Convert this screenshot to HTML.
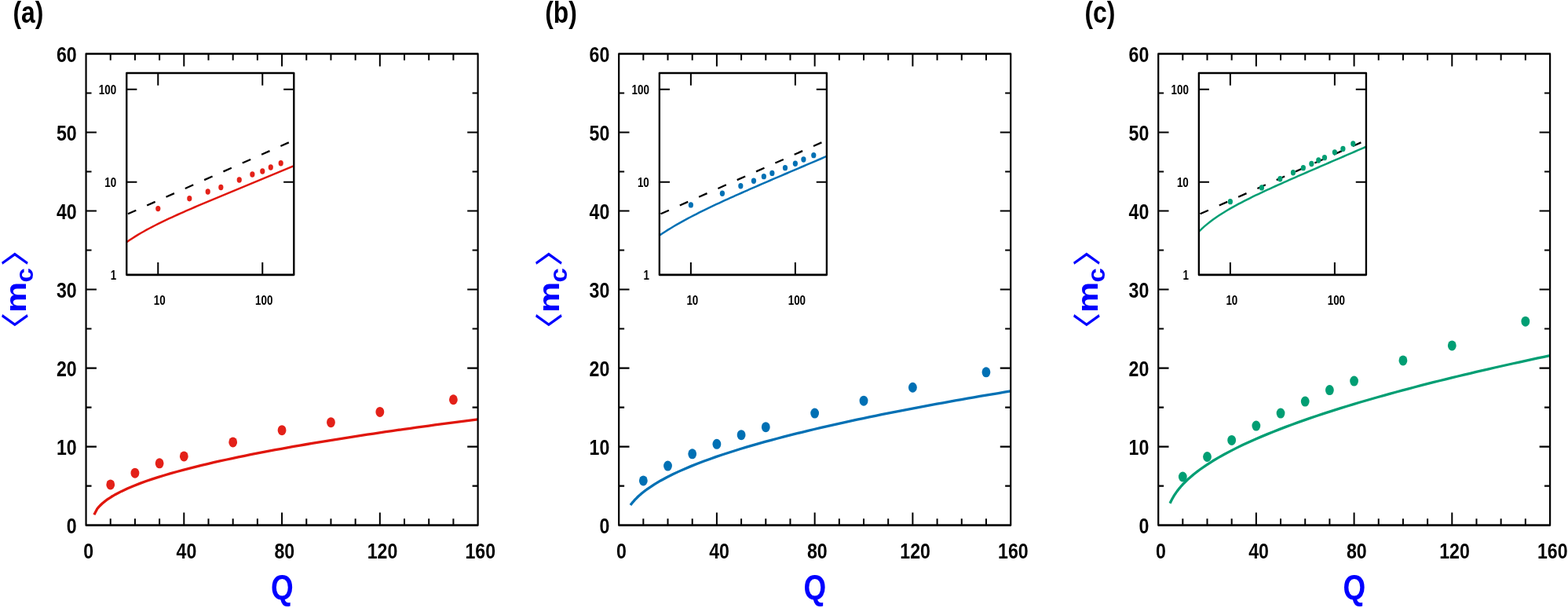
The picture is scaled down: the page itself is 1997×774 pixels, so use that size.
<!DOCTYPE html>
<html lang="en"><head><meta charset="utf-8"><title>Figure: mean m_c versus Q</title>
<style>html,body{margin:0;padding:0;background:#fff}body{width:1997px;height:774px;overflow:hidden}svg{display:block}text{font-family:"Liberation Sans",Arial,Helvetica,sans-serif;font-weight:bold}.tk{font-size:27.6px;fill:#000}.it{font-size:16px;fill:#000}.pl{font-size:38px;fill:#000}.ax{font-size:44px;fill:#0000ff}.br{font-family:"Noto Sans CJK JP","Noto Sans CJK SC","DejaVu Sans",sans-serif;font-weight:500;font-size:43.3px}</style></head><body>
<svg width="1997" height="774" viewBox="0 0 1997 774" role="img" aria-label="Mean m_c versus Q for three panels (a), (b), (c) with log-log insets">
<rect width="1997" height="774" fill="#fff"/>
<g>
<g>
<text class="pl" text-anchor="start" transform="translate(16.5 28.7) scale(0.8396 1)">(a)</text>
<path d="M140.74 668.6 v-8.4 M140.74 68.45 v8.4 M171.93 668.6 v-8.4 M171.93 68.45 v8.4 M203.12 668.6 v-8.4 M203.12 68.45 v8.4 M234.31 668.6 v-16.1 M234.31 68.45 v16.1 M265.5 668.6 v-8.4 M265.5 68.45 v8.4 M296.69 668.6 v-8.4 M296.69 68.45 v8.4 M327.88 668.6 v-8.4 M327.88 68.45 v8.4 M359.07 668.6 v-16.1 M359.07 68.45 v16.1 M390.27 668.6 v-8.4 M390.27 68.45 v8.4 M421.46 668.6 v-8.4 M421.46 68.45 v8.4 M452.65 668.6 v-8.4 M452.65 68.45 v8.4 M483.84 668.6 v-16.1 M483.84 68.45 v16.1 M515.03 668.6 v-8.4 M515.03 68.45 v8.4 M546.22 668.6 v-8.4 M546.22 68.45 v8.4 M577.41 668.6 v-8.4 M577.41 68.45 v8.4" fill="none" stroke="#000" stroke-width="2.0"/>
<path d="M109.55 618.59 h6.98 M608.6 618.59 h-6.98 M109.55 568.58 h13.38 M608.6 568.58 h-13.38 M109.55 518.56 h6.98 M608.6 518.56 h-6.98 M109.55 468.55 h13.38 M608.6 468.55 h-13.38 M109.55 418.54 h6.98 M608.6 418.54 h-6.98 M109.55 368.53 h13.38 M608.6 368.53 h-13.38 M109.55 318.51 h6.98 M608.6 318.51 h-6.98 M109.55 268.5 h13.38 M608.6 268.5 h-13.38 M109.55 218.49 h6.98 M608.6 218.49 h-6.98 M109.55 168.48 h13.38 M608.6 168.48 h-13.38 M109.55 118.46 h6.98 M608.6 118.46 h-6.98" fill="none" stroke="#000" stroke-width="2.15"/>
<polyline points="119.87,655.2 123.8,647.72 124.6,646.74 125.4,645.82 126.2,644.93 127,644.09 127.8,643.28 128.6,642.5 129.4,641.75 130.2,641.03 131,640.33 131.8,639.65 132.59,638.99 133.39,638.36 134.19,637.73 134.99,637.13 135.79,636.54 136.59,635.96 137.39,635.4 138.19,634.85 138.99,634.31 139.79,633.79 140.59,633.27 141.38,632.77 142.18,632.27 142.98,631.78 143.78,631.3 144.58,630.83 145.38,630.36 146.18,629.91 146.98,629.46 154.8,625.38 162.63,621.75 170.45,618.45 178.28,615.41 186.1,612.57 193.92,609.91 201.75,607.38 209.57,604.98 217.4,602.68 225.22,600.48 233.04,598.36 240.87,596.31 248.69,594.33 256.52,592.41 264.34,590.55 272.16,588.73 279.99,586.97 287.81,585.24 295.64,583.56 303.46,581.92 311.28,580.31 319.11,578.73 326.93,577.18 334.76,575.67 342.58,574.18 350.41,572.71 358.23,571.28 366.05,569.86 373.88,568.47 381.7,567.1 389.53,565.75 397.35,564.42 405.17,563.11 413,561.82 420.82,560.54 428.65,559.28 436.47,558.04 444.29,556.81 452.12,555.6 459.94,554.4 467.77,553.22 475.59,552.04 483.41,550.89 491.24,549.74 499.06,548.61 506.89,547.48 514.71,546.37 522.54,545.27 530.36,544.18 538.18,543.11 546.01,542.04 553.83,540.98 561.66,539.93 569.48,538.89 577.3,537.86 585.13,536.84 592.95,535.82 600.78,534.82 608.6,533.82" fill="none" stroke="#e0160c" stroke-width="3.3" stroke-linejoin="round"/>
<ellipse cx="140.74" cy="616.89" rx="5.4" ry="6.5" fill="#e32119"/>
<ellipse cx="171.93" cy="602.18" rx="5.4" ry="6.5" fill="#e32119"/>
<ellipse cx="203.12" cy="589.78" rx="5.4" ry="6.5" fill="#e32119"/>
<ellipse cx="234.31" cy="580.88" rx="5.4" ry="6.5" fill="#e32119"/>
<ellipse cx="296.69" cy="562.97" rx="5.4" ry="6.5" fill="#e32119"/>
<ellipse cx="359.07" cy="547.67" rx="5.4" ry="6.5" fill="#e32119"/>
<ellipse cx="421.46" cy="537.67" rx="5.4" ry="6.5" fill="#e32119"/>
<ellipse cx="483.84" cy="524.46" rx="5.4" ry="6.5" fill="#e32119"/>
<ellipse cx="577.41" cy="508.76" rx="5.4" ry="6.5" fill="#e32119"/>
<rect transform="scale(0.8462 1)" x="129.47" y="68.45" width="589.79" height="600.15" fill="none" stroke="#000" stroke-width="2.6" stroke-linejoin="round"/>
<text class="tk" text-anchor="end" transform="translate(97.75 679.1) scale(0.8396 1)">0</text>
<text class="tk" text-anchor="end" transform="translate(97.75 579.08) scale(0.8396 1)">10</text>
<text class="tk" text-anchor="end" transform="translate(97.75 479.05) scale(0.8396 1)">20</text>
<text class="tk" text-anchor="end" transform="translate(97.75 379.03) scale(0.8396 1)">30</text>
<text class="tk" text-anchor="end" transform="translate(97.75 279) scale(0.8396 1)">40</text>
<text class="tk" text-anchor="end" transform="translate(97.75 178.98) scale(0.8396 1)">50</text>
<text class="tk" text-anchor="end" transform="translate(97.75 78.95) scale(0.8396 1)">60</text>
<text class="tk" text-anchor="middle" transform="translate(112.75 710.5) scale(0.8396 1)">0</text>
<text class="tk" text-anchor="middle" transform="translate(237.51 710.5) scale(0.8396 1)">40</text>
<text class="tk" text-anchor="middle" transform="translate(362.27 710.5) scale(0.8396 1)">80</text>
<text class="tk" text-anchor="middle" transform="translate(487.04 710.5) scale(0.8396 1)">120</text>
<text class="tk" text-anchor="middle" transform="translate(611.8 710.5) scale(0.8396 1)">160</text>
<text class="ax" text-anchor="middle" transform="translate(359.25 762.8) scale(0.8396 1)">Q</text>
<g transform="translate(33 397.9) scale(0.8313 1) rotate(-90)"><text class="ax br" transform="translate(-41.1 0.1) scale(0.95 1)">〈</text><text class="ax" x="0" y="0">m</text><text class="ax" transform="translate(38.46 11.1) scale(0.88 1)" style="font-size:37.5px">c</text><text class="ax br" transform="translate(58.8 0.1) scale(0.95 1)">〉</text></g>
<rect x="161.25" y="92.95" width="213.05" height="256.9" fill="#fff" stroke="none"/>
<path d="M201.28 349.85 v-15.8 M201.28 92.95 v15.8 M334.27 349.85 v-15.8 M334.27 92.95 v15.8" fill="none" stroke="#000" stroke-width="2.0"/>
<path d="M161.25 231.79 h13.14 M374.3 231.79 h-13.14 M161.25 113.74 h13.14 M374.3 113.74 h-13.14" fill="none" stroke="#000" stroke-width="2.15"/>
<line x1="161.25" y1="273.05" x2="374.3" y2="178.49" stroke="#000" stroke-width="2.3" stroke-dasharray="11.4 15.2" stroke-dashoffset="-1.8"/>
<polyline points="161.25,308.31 164.86,305.81 168.47,303.42 172.08,301.12 175.69,298.91 179.31,296.78 182.92,294.71 186.53,292.7 190.14,290.75 193.75,288.85 197.36,286.99 200.97,285.17 204.58,283.38 208.19,281.63 211.8,279.9 215.42,278.2 219.03,276.53 222.64,274.88 226.25,273.24 229.86,271.62 233.47,270.02 237.08,268.43 240.69,266.86 244.3,265.3 247.91,263.74 251.53,262.2 255.14,260.66 258.75,259.13 262.36,257.61 265.97,256.09 269.58,254.58 273.19,253.07 276.8,251.56 280.41,250.06 284.02,248.56 287.64,247.06 291.25,245.57 294.86,244.08 298.47,242.58 302.08,241.09 305.69,239.6 309.3,238.11 312.91,236.62 316.52,235.12 320.13,233.63 323.75,232.14 327.36,230.65 330.97,229.15 334.58,227.66 338.19,226.16 341.8,224.66 345.41,223.16 349.02,221.66 352.63,220.16 356.24,218.66 359.86,217.15 363.47,215.65 367.08,214.14 370.69,212.63 374.3,211.12" fill="none" stroke="#e0160c" stroke-width="2.5" stroke-linejoin="round"/>
<ellipse cx="201.28" cy="265.62" rx="3.1" ry="3.7" fill="#e32119"/>
<ellipse cx="241.31" cy="252.79" rx="3.1" ry="3.7" fill="#e32119"/>
<ellipse cx="264.73" cy="244.01" rx="3.1" ry="3.7" fill="#e32119"/>
<ellipse cx="281.35" cy="238.52" rx="3.1" ry="3.7" fill="#e32119"/>
<ellipse cx="304.76" cy="229" rx="3.1" ry="3.7" fill="#e32119"/>
<ellipse cx="321.38" cy="222.06" rx="3.1" ry="3.7" fill="#e32119"/>
<ellipse cx="334.27" cy="217.99" rx="3.1" ry="3.7" fill="#e32119"/>
<ellipse cx="344.8" cy="213.06" rx="3.1" ry="3.7" fill="#e32119"/>
<ellipse cx="357.69" cy="207.76" rx="3.1" ry="3.7" fill="#e32119"/>
<rect transform="scale(0.8868 1)" x="181.84" y="92.95" width="240.25" height="256.9" fill="none" stroke="#000" stroke-width="2.65" stroke-linejoin="round"/>
<text class="it" text-anchor="end" transform="translate(148.25 356.05) scale(0.8396 1)">1</text>
<text class="it" text-anchor="end" transform="translate(148.25 237.99) scale(0.8396 1)">10</text>
<text class="it" text-anchor="end" transform="translate(148.25 119.94) scale(0.8396 1)">100</text>
<text class="it" text-anchor="middle" transform="translate(203.28 388) scale(0.8396 1)">10</text>
<text class="it" text-anchor="middle" transform="translate(336.27 388) scale(0.8396 1)">100</text>
</g>
<g>
<text class="pl" text-anchor="start" transform="translate(694.2 28.7) scale(0.8396 1)">(b)</text>
<path d="M819.34 668.6 v-8.4 M819.34 68.45 v8.4 M850.52 668.6 v-8.4 M850.52 68.45 v8.4 M881.71 668.6 v-8.4 M881.71 68.45 v8.4 M912.9 668.6 v-16.1 M912.9 68.45 v16.1 M944.09 668.6 v-8.4 M944.09 68.45 v8.4 M975.28 668.6 v-8.4 M975.28 68.45 v8.4 M1006.46 668.6 v-8.4 M1006.46 68.45 v8.4 M1037.65 668.6 v-16.1 M1037.65 68.45 v16.1 M1068.84 668.6 v-8.4 M1068.84 68.45 v8.4 M1100.03 668.6 v-8.4 M1100.03 68.45 v8.4 M1131.21 668.6 v-8.4 M1131.21 68.45 v8.4 M1162.4 668.6 v-16.1 M1162.4 68.45 v16.1 M1193.59 668.6 v-8.4 M1193.59 68.45 v8.4 M1224.78 668.6 v-8.4 M1224.78 68.45 v8.4 M1255.96 668.6 v-8.4 M1255.96 68.45 v8.4" fill="none" stroke="#000" stroke-width="2.0"/>
<path d="M788.15 618.59 h6.98 M1287.15 618.59 h-6.98 M788.15 568.58 h13.38 M1287.15 568.58 h-13.38 M788.15 518.56 h6.98 M1287.15 518.56 h-6.98 M788.15 468.55 h13.38 M1287.15 468.55 h-13.38 M788.15 418.54 h6.98 M1287.15 418.54 h-6.98 M788.15 368.53 h13.38 M1287.15 368.53 h-13.38 M788.15 318.51 h6.98 M1287.15 318.51 h-6.98 M788.15 268.5 h13.38 M1287.15 268.5 h-13.38 M788.15 218.49 h6.98 M1287.15 218.49 h-6.98 M788.15 168.48 h13.38 M1287.15 168.48 h-13.38 M788.15 118.46 h6.98 M1287.15 118.46 h-6.98" fill="none" stroke="#000" stroke-width="2.15"/>
<polyline points="802.96,643.07 803.74,642.03 804.52,641.02 805.3,640.05 806.08,639.11 806.86,638.21 807.64,637.33 808.42,636.47 809.2,635.65 809.98,634.84 810.76,634.05 811.54,633.28 812.32,632.53 813.1,631.8 813.88,631.09 814.66,630.38 815.44,629.7 816.22,629.02 817,628.36 817.78,627.71 818.56,627.07 819.34,626.45 820.12,625.83 820.9,625.23 821.68,624.63 822.46,624.04 823.24,623.46 824.02,622.89 824.8,622.33 825.58,621.78 833.4,616.59 841.22,611.94 849.04,607.7 856.87,603.78 864.69,600.12 872.51,596.66 880.34,593.39 888.16,590.28 895.98,587.3 903.81,584.44 911.63,581.68 919.45,579.03 927.28,576.45 935.1,573.96 942.92,571.54 950.75,569.18 958.57,566.89 966.39,564.65 974.22,562.46 982.04,560.33 989.86,558.23 997.69,556.19 1005.51,554.18 1013.33,552.21 1021.16,550.28 1028.98,548.38 1036.8,546.51 1044.63,544.67 1052.45,542.87 1060.27,541.09 1068.1,539.34 1075.92,537.61 1083.74,535.91 1091.57,534.23 1099.39,532.58 1107.21,530.94 1115.04,529.33 1122.86,527.74 1130.68,526.16 1138.51,524.61 1146.33,523.07 1154.15,521.55 1161.98,520.05 1169.8,518.56 1177.62,517.09 1185.45,515.63 1193.27,514.19 1201.09,512.77 1208.92,511.35 1216.74,509.96 1224.56,508.57 1232.39,507.2 1240.21,505.84 1248.03,504.49 1255.86,503.15 1263.68,501.83 1271.5,500.51 1279.33,499.21 1287.15,497.92" fill="none" stroke="#0070b4" stroke-width="3.3" stroke-linejoin="round"/>
<ellipse cx="819.34" cy="611.89" rx="5.4" ry="6.5" fill="#0070b4"/>
<ellipse cx="850.52" cy="593.08" rx="5.4" ry="6.5" fill="#0070b4"/>
<ellipse cx="881.71" cy="577.78" rx="5.4" ry="6.5" fill="#0070b4"/>
<ellipse cx="912.9" cy="565.37" rx="5.4" ry="6.5" fill="#0070b4"/>
<ellipse cx="944.09" cy="553.67" rx="5.4" ry="6.5" fill="#0070b4"/>
<ellipse cx="975.28" cy="543.67" rx="5.4" ry="6.5" fill="#0070b4"/>
<ellipse cx="1037.65" cy="526.06" rx="5.4" ry="6.5" fill="#0070b4"/>
<ellipse cx="1100.03" cy="510.16" rx="5.4" ry="6.5" fill="#0070b4"/>
<ellipse cx="1162.4" cy="493.26" rx="5.4" ry="6.5" fill="#0070b4"/>
<ellipse cx="1255.96" cy="473.85" rx="5.4" ry="6.5" fill="#0070b4"/>
<rect transform="scale(0.8462 1)" x="931.45" y="68.45" width="589.73" height="600.15" fill="none" stroke="#000" stroke-width="2.6" stroke-linejoin="round"/>
<text class="tk" text-anchor="end" transform="translate(776.35 679.1) scale(0.8396 1)">0</text>
<text class="tk" text-anchor="end" transform="translate(776.35 579.08) scale(0.8396 1)">10</text>
<text class="tk" text-anchor="end" transform="translate(776.35 479.05) scale(0.8396 1)">20</text>
<text class="tk" text-anchor="end" transform="translate(776.35 379.03) scale(0.8396 1)">30</text>
<text class="tk" text-anchor="end" transform="translate(776.35 279) scale(0.8396 1)">40</text>
<text class="tk" text-anchor="end" transform="translate(776.35 178.98) scale(0.8396 1)">50</text>
<text class="tk" text-anchor="end" transform="translate(776.35 78.95) scale(0.8396 1)">60</text>
<text class="tk" text-anchor="middle" transform="translate(791.35 710.5) scale(0.8396 1)">0</text>
<text class="tk" text-anchor="middle" transform="translate(916.1 710.5) scale(0.8396 1)">40</text>
<text class="tk" text-anchor="middle" transform="translate(1040.85 710.5) scale(0.8396 1)">80</text>
<text class="tk" text-anchor="middle" transform="translate(1165.6 710.5) scale(0.8396 1)">120</text>
<text class="tk" text-anchor="middle" transform="translate(1290.35 710.5) scale(0.8396 1)">160</text>
<text class="ax" text-anchor="middle" transform="translate(1037.85 762.8) scale(0.8396 1)">Q</text>
<g transform="translate(712.45 397.9) scale(0.8313 1) rotate(-90)"><text class="ax br" transform="translate(-41.1 0.1) scale(0.95 1)">〈</text><text class="ax" x="0" y="0">m</text><text class="ax" transform="translate(38.46 11.1) scale(0.88 1)" style="font-size:37.5px">c</text><text class="ax br" transform="translate(58.8 0.1) scale(0.95 1)">〉</text></g>
<rect x="839.85" y="92.95" width="213.05" height="256.9" fill="#fff" stroke="none"/>
<path d="M879.88 349.85 v-15.8 M879.88 92.95 v15.8 M1012.87 349.85 v-15.8 M1012.87 92.95 v15.8" fill="none" stroke="#000" stroke-width="2.0"/>
<path d="M839.85 231.79 h13.14 M1052.9 231.79 h-13.14 M839.85 113.74 h13.14 M1052.9 113.74 h-13.14" fill="none" stroke="#000" stroke-width="2.15"/>
<line x1="839.85" y1="273.05" x2="1052.9" y2="178.49" stroke="#000" stroke-width="2.3" stroke-dasharray="11.4 15.2" stroke-dashoffset="-1.8"/>
<polyline points="839.85,299.75 843.46,297.32 847.07,294.97 850.68,292.68 854.29,290.46 857.91,288.29 861.52,286.18 865.13,284.11 868.74,282.09 872.35,280.11 875.96,278.17 879.57,276.26 883.18,274.39 886.79,272.54 890.4,270.72 894.02,268.92 897.63,267.15 901.24,265.39 904.85,263.66 908.46,261.94 912.07,260.24 915.68,258.56 919.29,256.89 922.9,255.23 926.51,253.58 930.13,251.94 933.74,250.32 937.35,248.7 940.96,247.09 944.57,245.49 948.18,243.89 951.79,242.31 955.4,240.72 959.01,239.15 962.62,237.57 966.24,236.01 969.85,234.44 973.46,232.88 977.07,231.32 980.68,229.77 984.29,228.21 987.9,226.66 991.51,225.12 995.12,223.57 998.73,222.02 1002.35,220.48 1005.96,218.93 1009.57,217.39 1013.18,215.85 1016.79,214.31 1020.4,212.77 1024.01,211.23 1027.62,209.68 1031.23,208.14 1034.84,206.6 1038.46,205.06 1042.07,203.52 1045.68,201.98 1049.29,200.43 1052.9,198.89" fill="none" stroke="#0070b4" stroke-width="2.5" stroke-linejoin="round"/>
<ellipse cx="879.88" cy="260.89" rx="3.1" ry="3.7" fill="#0070b4"/>
<ellipse cx="919.91" cy="246.2" rx="3.1" ry="3.7" fill="#0070b4"/>
<ellipse cx="943.33" cy="236.74" rx="3.1" ry="3.7" fill="#0070b4"/>
<ellipse cx="959.95" cy="230.18" rx="3.1" ry="3.7" fill="#0070b4"/>
<ellipse cx="972.84" cy="224.67" rx="3.1" ry="3.7" fill="#0070b4"/>
<ellipse cx="983.36" cy="220.39" rx="3.1" ry="3.7" fill="#0070b4"/>
<ellipse cx="999.98" cy="213.64" rx="3.1" ry="3.7" fill="#0070b4"/>
<ellipse cx="1012.87" cy="208.21" rx="3.1" ry="3.7" fill="#0070b4"/>
<ellipse cx="1023.4" cy="203.01" rx="3.1" ry="3.7" fill="#0070b4"/>
<ellipse cx="1036.29" cy="197.63" rx="3.1" ry="3.7" fill="#0070b4"/>
<rect transform="scale(0.8868 1)" x="947.06" y="92.95" width="240.25" height="256.9" fill="none" stroke="#000" stroke-width="2.65" stroke-linejoin="round"/>
<text class="it" text-anchor="end" transform="translate(826.85 356.05) scale(0.8396 1)">1</text>
<text class="it" text-anchor="end" transform="translate(826.85 237.99) scale(0.8396 1)">10</text>
<text class="it" text-anchor="end" transform="translate(826.85 119.94) scale(0.8396 1)">100</text>
<text class="it" text-anchor="middle" transform="translate(881.88 388) scale(0.8396 1)">10</text>
<text class="it" text-anchor="middle" transform="translate(1014.87 388) scale(0.8396 1)">100</text>
</g>
<g>
<text class="pl" text-anchor="start" transform="translate(1381.5 28.7) scale(0.8396 1)">(c)</text>
<path d="M1506.33 668.6 v-8.4 M1506.33 68.45 v8.4 M1537.51 668.6 v-8.4 M1537.51 68.45 v8.4 M1568.68 668.6 v-8.4 M1568.68 68.45 v8.4 M1599.86 668.6 v-16.1 M1599.86 68.45 v16.1 M1631.04 668.6 v-8.4 M1631.04 68.45 v8.4 M1662.22 668.6 v-8.4 M1662.22 68.45 v8.4 M1693.4 668.6 v-8.4 M1693.4 68.45 v8.4 M1724.58 668.6 v-16.1 M1724.58 68.45 v16.1 M1755.75 668.6 v-8.4 M1755.75 68.45 v8.4 M1786.93 668.6 v-8.4 M1786.93 68.45 v8.4 M1818.11 668.6 v-8.4 M1818.11 68.45 v8.4 M1849.29 668.6 v-16.1 M1849.29 68.45 v16.1 M1880.47 668.6 v-8.4 M1880.47 68.45 v8.4 M1911.64 668.6 v-8.4 M1911.64 68.45 v8.4 M1942.82 668.6 v-8.4 M1942.82 68.45 v8.4" fill="none" stroke="#000" stroke-width="2.0"/>
<path d="M1475.15 618.59 h6.98 M1974 618.59 h-6.98 M1475.15 568.58 h13.38 M1974 568.58 h-13.38 M1475.15 518.56 h6.98 M1974 518.56 h-6.98 M1475.15 468.55 h13.38 M1974 468.55 h-13.38 M1475.15 418.54 h6.98 M1974 418.54 h-6.98 M1475.15 368.53 h13.38 M1974 368.53 h-13.38 M1475.15 318.51 h6.98 M1974 318.51 h-6.98 M1475.15 268.5 h13.38 M1974 268.5 h-13.38 M1475.15 218.49 h6.98 M1974 218.49 h-6.98 M1475.15 168.48 h13.38 M1974 168.48 h-13.38 M1475.15 118.46 h6.98 M1974 118.46 h-6.98" fill="none" stroke="#000" stroke-width="2.15"/>
<polyline points="1490.12,640.7 1490.89,639.04 1491.66,637.47 1492.44,635.98 1493.21,634.56 1493.99,633.21 1494.76,631.91 1495.53,630.66 1496.31,629.46 1497.08,628.3 1497.86,627.17 1498.63,626.09 1499.4,625.04 1500.18,624.02 1500.95,623.02 1501.73,622.05 1502.5,621.11 1503.27,620.19 1504.05,619.29 1504.82,618.42 1505.6,617.56 1506.37,616.71 1507.15,615.89 1507.92,615.08 1508.69,614.29 1509.47,613.51 1510.24,612.74 1511.02,611.99 1511.79,611.25 1512.56,610.52 1520.38,603.73 1528.21,597.73 1536.03,592.29 1543.85,587.28 1551.67,582.62 1559.49,578.23 1567.31,574.09 1575.13,570.14 1582.95,566.36 1590.77,562.74 1598.59,559.25 1606.42,555.89 1614.24,552.63 1622.06,549.47 1629.88,546.4 1637.7,543.41 1645.52,540.5 1653.34,537.66 1661.16,534.89 1668.98,532.18 1676.8,529.52 1684.62,526.92 1692.45,524.37 1700.27,521.87 1708.09,519.41 1715.91,516.99 1723.73,514.62 1731.55,512.28 1739.37,509.98 1747.19,507.72 1755.01,505.49 1762.83,503.29 1770.66,501.13 1778.48,498.99 1786.3,496.88 1794.12,494.8 1801.94,492.74 1809.76,490.71 1817.58,488.7 1825.4,486.72 1833.22,484.76 1841.04,482.82 1848.86,480.9 1856.69,479 1864.51,477.12 1872.33,475.27 1880.15,473.43 1887.97,471.6 1895.79,469.8 1903.61,468.01 1911.43,466.24 1919.25,464.49 1927.07,462.75 1934.9,461.03 1942.72,459.32 1950.54,457.62 1958.36,455.94 1966.18,454.28 1974,452.62" fill="none" stroke="#009e73" stroke-width="3.3" stroke-linejoin="round"/>
<ellipse cx="1506.33" cy="606.98" rx="5.4" ry="6.5" fill="#009e73"/>
<ellipse cx="1537.51" cy="581.48" rx="5.4" ry="6.5" fill="#009e73"/>
<ellipse cx="1568.68" cy="560.47" rx="5.4" ry="6.5" fill="#009e73"/>
<ellipse cx="1599.86" cy="542.07" rx="5.4" ry="6.5" fill="#009e73"/>
<ellipse cx="1631.04" cy="526.06" rx="5.4" ry="6.5" fill="#009e73"/>
<ellipse cx="1662.22" cy="511.06" rx="5.4" ry="6.5" fill="#009e73"/>
<ellipse cx="1693.4" cy="496.56" rx="5.4" ry="6.5" fill="#009e73"/>
<ellipse cx="1724.58" cy="485.05" rx="5.4" ry="6.5" fill="#009e73"/>
<ellipse cx="1786.93" cy="458.95" rx="5.4" ry="6.5" fill="#009e73"/>
<ellipse cx="1849.29" cy="439.94" rx="5.4" ry="6.5" fill="#009e73"/>
<ellipse cx="1942.82" cy="409.14" rx="5.4" ry="6.5" fill="#009e73"/>
<rect transform="scale(0.8462 1)" x="1743.36" y="68.45" width="589.55" height="600.15" fill="none" stroke="#000" stroke-width="2.6" stroke-linejoin="round"/>
<text class="tk" text-anchor="end" transform="translate(1463.35 679.1) scale(0.8396 1)">0</text>
<text class="tk" text-anchor="end" transform="translate(1463.35 579.08) scale(0.8396 1)">10</text>
<text class="tk" text-anchor="end" transform="translate(1463.35 479.05) scale(0.8396 1)">20</text>
<text class="tk" text-anchor="end" transform="translate(1463.35 379.03) scale(0.8396 1)">30</text>
<text class="tk" text-anchor="end" transform="translate(1463.35 279) scale(0.8396 1)">40</text>
<text class="tk" text-anchor="end" transform="translate(1463.35 178.98) scale(0.8396 1)">50</text>
<text class="tk" text-anchor="end" transform="translate(1463.35 78.95) scale(0.8396 1)">60</text>
<text class="tk" text-anchor="middle" transform="translate(1478.35 710.5) scale(0.8396 1)">0</text>
<text class="tk" text-anchor="middle" transform="translate(1603.06 710.5) scale(0.8396 1)">40</text>
<text class="tk" text-anchor="middle" transform="translate(1727.78 710.5) scale(0.8396 1)">80</text>
<text class="tk" text-anchor="middle" transform="translate(1852.49 710.5) scale(0.8396 1)">120</text>
<text class="tk" text-anchor="middle" transform="translate(1977.2 710.5) scale(0.8396 1)">160</text>
<text class="ax" text-anchor="middle" transform="translate(1724.85 762.8) scale(0.8396 1)">Q</text>
<g transform="translate(1398.05 397.9) scale(0.8313 1) rotate(-90)"><text class="ax br" transform="translate(-41.1 0.1) scale(0.95 1)">〈</text><text class="ax" x="0" y="0">m</text><text class="ax" transform="translate(38.46 11.1) scale(0.88 1)" style="font-size:37.5px">c</text><text class="ax br" transform="translate(58.8 0.1) scale(0.95 1)">〉</text></g>
<rect x="1526.85" y="92.95" width="213.05" height="256.9" fill="#fff" stroke="none"/>
<path d="M1566.88 349.85 v-15.8 M1566.88 92.95 v15.8 M1699.87 349.85 v-15.8 M1699.87 92.95 v15.8" fill="none" stroke="#000" stroke-width="2.0"/>
<path d="M1526.85 231.79 h13.14 M1739.9 231.79 h-13.14 M1526.85 113.74 h13.14 M1739.9 113.74 h-13.14" fill="none" stroke="#000" stroke-width="2.15"/>
<line x1="1526.85" y1="273.05" x2="1739.9" y2="178.49" stroke="#000" stroke-width="2.3" stroke-dasharray="11.4 15.2" stroke-dashoffset="-1.8"/>
<polyline points="1526.85,294.84 1530.46,291.38 1534.07,288.15 1537.68,285.13 1541.29,282.29 1544.91,279.59 1548.52,277.03 1552.13,274.58 1555.74,272.23 1559.35,269.97 1562.96,267.79 1566.57,265.67 1570.18,263.62 1573.79,261.62 1577.4,259.67 1581.02,257.77 1584.63,255.9 1588.24,254.07 1591.85,252.26 1595.46,250.49 1599.07,248.74 1602.68,247.01 1606.29,245.31 1609.9,243.62 1613.51,241.94 1617.13,240.29 1620.74,238.64 1624.35,237.01 1627.96,235.38 1631.57,233.77 1635.18,232.16 1638.79,230.56 1642.4,228.96 1646.01,227.38 1649.62,225.79 1653.24,224.21 1656.85,222.64 1660.46,221.07 1664.07,219.5 1667.68,217.93 1671.29,216.37 1674.9,214.81 1678.51,213.25 1682.12,211.69 1685.73,210.13 1689.35,208.57 1692.96,207.01 1696.57,205.46 1700.18,203.9 1703.79,202.34 1707.4,200.79 1711.01,199.23 1714.62,197.67 1718.23,196.12 1721.84,194.56 1725.46,193 1729.07,191.44 1732.68,189.88 1736.29,188.32 1739.9,186.76" fill="none" stroke="#009e73" stroke-width="2.5" stroke-linejoin="round"/>
<ellipse cx="1566.88" cy="256.64" rx="3.1" ry="3.7" fill="#009e73"/>
<ellipse cx="1606.91" cy="238.88" rx="3.1" ry="3.7" fill="#009e73"/>
<ellipse cx="1630.33" cy="227.8" rx="3.1" ry="3.7" fill="#009e73"/>
<ellipse cx="1646.95" cy="219.74" rx="3.1" ry="3.7" fill="#009e73"/>
<ellipse cx="1659.84" cy="213.64" rx="3.1" ry="3.7" fill="#009e73"/>
<ellipse cx="1670.36" cy="208.5" rx="3.1" ry="3.7" fill="#009e73"/>
<ellipse cx="1679.27" cy="203.99" rx="3.1" ry="3.7" fill="#009e73"/>
<ellipse cx="1686.98" cy="200.67" rx="3.1" ry="3.7" fill="#009e73"/>
<ellipse cx="1699.87" cy="193.85" rx="3.1" ry="3.7" fill="#009e73"/>
<ellipse cx="1710.4" cy="189.4" rx="3.1" ry="3.7" fill="#009e73"/>
<ellipse cx="1723.29" cy="182.92" rx="3.1" ry="3.7" fill="#009e73"/>
<rect transform="scale(0.8868 1)" x="1721.77" y="92.95" width="240.25" height="256.9" fill="none" stroke="#000" stroke-width="2.65" stroke-linejoin="round"/>
<text class="it" text-anchor="end" transform="translate(1513.85 356.05) scale(0.8396 1)">1</text>
<text class="it" text-anchor="end" transform="translate(1513.85 237.99) scale(0.8396 1)">10</text>
<text class="it" text-anchor="end" transform="translate(1513.85 119.94) scale(0.8396 1)">100</text>
<text class="it" text-anchor="middle" transform="translate(1568.88 388) scale(0.8396 1)">10</text>
<text class="it" text-anchor="middle" transform="translate(1701.87 388) scale(0.8396 1)">100</text>
</g>
</g>
</svg></body></html>
